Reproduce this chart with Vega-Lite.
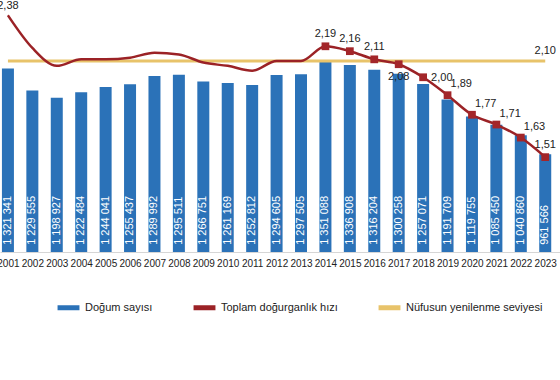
{
  "$schema": "https://vega.github.io/schema/vega-lite/v6.json",
  "width": 560,
  "height": 252,
  "autosize": "none",
  "padding": {"left": 0, "top": 0, "right": 0, "bottom": 128},
  "background": "white",
  "config": {
    "view": {"stroke": null},
    "font": "Liberation Sans",
    "locale": {"number": {"decimal": ",", "thousands": " ", "grouping": [3], "currency": ["", ""]}}
  },
  "data": {
    "values": [
      {"year": 2001, "births": 1321341, "tfr": 2.38, "replacement": 2.10},
      {"year": 2002, "births": 1229555, "tfr": 2.18, "replacement": 2.10},
      {"year": 2003, "births": 1198927, "tfr": 2.07, "replacement": 2.10},
      {"year": 2004, "births": 1222484, "tfr": 2.11, "replacement": 2.10},
      {"year": 2005, "births": 1244041, "tfr": 2.11, "replacement": 2.10},
      {"year": 2006, "births": 1255437, "tfr": 2.12, "replacement": 2.10},
      {"year": 2007, "births": 1289992, "tfr": 2.15, "replacement": 2.10},
      {"year": 2008, "births": 1295511, "tfr": 2.14, "replacement": 2.10},
      {"year": 2009, "births": 1266751, "tfr": 2.09, "replacement": 2.10},
      {"year": 2010, "births": 1261169, "tfr": 2.07, "replacement": 2.10},
      {"year": 2011, "births": 1252812, "tfr": 2.04, "replacement": 2.10},
      {"year": 2012, "births": 1294605, "tfr": 2.10, "replacement": 2.10},
      {"year": 2013, "births": 1297505, "tfr": 2.10, "replacement": 2.10},
      {"year": 2014, "births": 1351088, "tfr": 2.19, "replacement": 2.10},
      {"year": 2015, "births": 1336908, "tfr": 2.16, "replacement": 2.10},
      {"year": 2016, "births": 1316204, "tfr": 2.11, "replacement": 2.10},
      {"year": 2017, "births": 1300258, "tfr": 2.08, "replacement": 2.10},
      {"year": 2018, "births": 1257071, "tfr": 2.00, "replacement": 2.10},
      {"year": 2019, "births": 1191709, "tfr": 1.89, "replacement": 2.10},
      {"year": 2020, "births": 1119755, "tfr": 1.77, "replacement": 2.10},
      {"year": 2021, "births": 1085450, "tfr": 1.71, "replacement": 2.10},
      {"year": 2022, "births": 1040860, "tfr": 1.63, "replacement": 2.10},
      {"year": 2023, "births": 961566, "tfr": 1.51, "replacement": 2.10}
    ]
  },
  "encoding": {
    "x": {
      "field": "year",
      "type": "quantitative",
      "scale": {"domain": [2000.88, 2023.4], "nice": false, "zero": false},
      "axis": {
        "values": [2001, 2002, 2003, 2004, 2005, 2006, 2007, 2008, 2009, 2010, 2011, 2012, 2013, 2014, 2015, 2016, 2017, 2018, 2019, 2020, 2021, 2022, 2023],
        "format": "d",
        "title": null,
        "grid": false,
        "ticks": false,
        "labelOverlap": false,
        "labelFlush": false,
        "labelFontSize": 10,
        "labelColor": "#222222",
        "labelPadding": 6,
        "domainColor": "#d6d6d6"
      }
    }
  },
  "layer": [
    {
      "encoding": {
        "y": {"field": "births", "type": "quantitative", "scale": {"domain": [550000, 1610000], "nice": false, "zero": false}, "axis": null}
      },
      "layer": [
        {
          "mark": {"type": "bar", "size": 12, "clip": true},
          "encoding": {
            "color": {
              "datum": "Doğum sayısı",
              "scale": {
                "domain": ["Doğum sayısı", "Toplam doğurganlık hızı", "Nüfusun yenilenme seviyesi"],
                "range": ["#2b72b8", "#9b2226", "#e8c36a"]
              },
              "legend": {
                "orient": "none",
                "legendX": 55,
                "legendY": 294,
                "direction": "horizontal",
                "title": null,
                "symbolType": "stroke",
                "symbolStrokeWidth": 5,
                "symbolSize": 480,
                "labelFontSize": 11,
                "labelColor": "#222222",
                "columnPadding": 30,
                "labelOffset": 3
              }
            }
          }
        },
        {
          "mark": {"type": "text", "angle": 270, "align": "left", "baseline": "middle", "color": "white", "fontSize": 11, "clip": true},
          "encoding": {
            "y": {"datum": 580000},
            "text": {"field": "births", "type": "quantitative", "format": ","}
          }
        }
      ]
    },
    {
      "encoding": {
        "y": {"type": "quantitative", "scale": {"domain": [0.928, 2.474], "nice": false, "zero": false}, "axis": null}
      },
      "layer": [
        {
          "mark": {"type": "line", "strokeWidth": 3, "clip": true},
          "encoding": {
            "y": {"field": "replacement", "type": "quantitative"},
            "color": {"datum": "Nüfusun yenilenme seviyesi"}
          }
        },
        {
          "transform": [{"filter": "datum.year == 2023"}],
          "mark": {"type": "text", "dy": -10, "fontSize": 11, "color": "#222222", "clip": true},
          "encoding": {
            "y": {"field": "replacement", "type": "quantitative"},
            "text": {"field": "replacement", "type": "quantitative", "format": ".2f"}
          }
        },
        {
          "mark": {"type": "line", "strokeWidth": 2.5, "interpolate": "monotone", "clip": true},
          "encoding": {
            "y": {"field": "tfr", "type": "quantitative"},
            "color": {"datum": "Toplam doğurganlık hızı"}
          }
        },
        {
          "transform": [{"filter": "datum.year >= 2014"}],
          "mark": {"type": "point", "shape": "square", "filled": true, "size": 60, "color": "#a3262a", "opacity": 1, "clip": true},
          "encoding": {
            "y": {"field": "tfr", "type": "quantitative"}
          }
        },
        {
          "transform": [{"filter": "datum.year == 2001"}],
          "mark": {"type": "text", "dy": -9, "fontSize": 11, "color": "#222222", "clip": true},
          "encoding": {
            "y": {"field": "tfr", "type": "quantitative"},
            "text": {"field": "tfr", "type": "quantitative", "format": ".2f"}
          }
        },
        {
          "transform": [{"filter": "(datum.year >= 2014 && datum.year <= 2016) || datum.year == 2023"}],
          "mark": {"type": "text", "dy": -12, "fontSize": 11, "color": "#222222", "clip": true},
          "encoding": {
            "y": {"field": "tfr", "type": "quantitative"},
            "text": {"field": "tfr", "type": "quantitative", "format": ".2f"}
          }
        },
        {
          "transform": [{"filter": "datum.year == 2017"}],
          "mark": {"type": "text", "dy": 13, "fontSize": 11, "color": "#222222", "clip": true},
          "encoding": {
            "y": {"field": "tfr", "type": "quantitative"},
            "text": {"field": "tfr", "type": "quantitative", "format": ".2f"}
          }
        },
        {
          "transform": [{"filter": "datum.year == 2018"}],
          "mark": {"type": "text", "align": "left", "dx": 8, "dy": 1, "fontSize": 11, "color": "#222222", "clip": true},
          "encoding": {
            "y": {"field": "tfr", "type": "quantitative"},
            "text": {"field": "tfr", "type": "quantitative", "format": ".2f"}
          }
        },
        {
          "transform": [{"filter": "datum.year >= 2019 && datum.year <= 2022"}],
          "mark": {"type": "text", "align": "left", "dx": 3, "dy": -11, "fontSize": 11, "color": "#222222", "clip": true},
          "encoding": {
            "y": {"field": "tfr", "type": "quantitative"},
            "text": {"field": "tfr", "type": "quantitative", "format": ".2f"}
          }
        }
      ]
    }
  ],
  "resolve": {"scale": {"y": "independent"}}
}
